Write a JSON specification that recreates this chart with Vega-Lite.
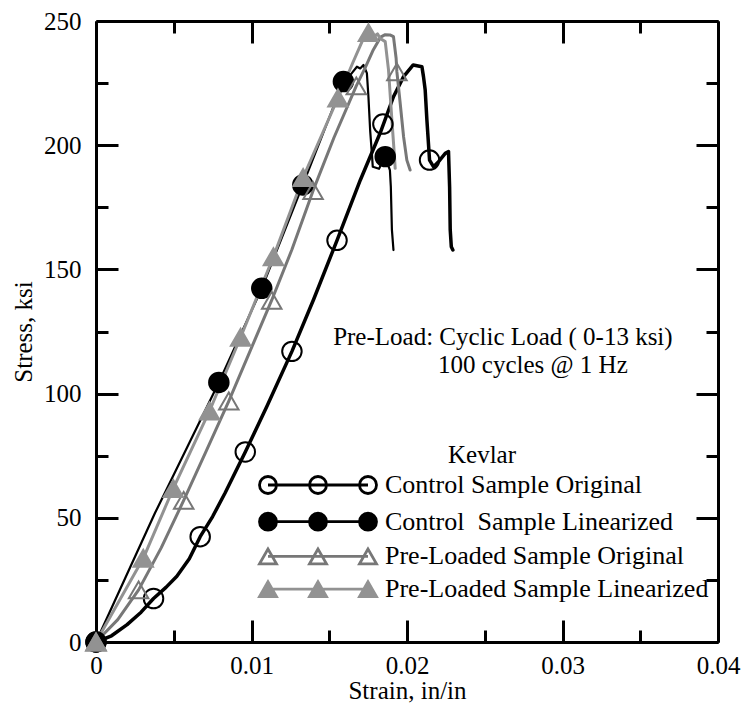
{
  "$schema": "https://vega.github.io/schema/vega-lite/v6.json",
  "width": 622,
  "height": 621,
  "autosize": {"type": "none"},
  "padding": {"left": 96, "top": 21, "right": 27, "bottom": 66},
  "background": "white",
  "config": {
    "font": "Liberation Serif",
    "view": {"stroke": null},
    "axis": {
      "grid": false,
      "domainColor": "black",
      "domainWidth": 3,
      "tickColor": "black",
      "tickWidth": 3,
      "labelFont": "Liberation Serif",
      "labelFontSize": 25,
      "labelColor": "black",
      "titleFont": "Liberation Serif",
      "titleFontSize": 25,
      "titleFontWeight": "normal",
      "titleColor": "black"
    }
  },
  "datasets": {
    "curves": [
      {"series": "CO", "strain": 0, "stress": 0},
      {"series": "CO", "strain": 0.001, "stress": 2.5},
      {"series": "CO", "strain": 0.002, "stress": 7},
      {"series": "CO", "strain": 0.0029, "stress": 12},
      {"series": "CO", "strain": 0.0037, "stress": 17.5},
      {"series": "CO", "strain": 0.0045, "stress": 22},
      {"series": "CO", "strain": 0.0052, "stress": 26.5},
      {"series": "CO", "strain": 0.006, "stress": 33.5},
      {"series": "CO", "strain": 0.0067, "stress": 42.4},
      {"series": "CO", "strain": 0.0075, "stress": 50.5},
      {"series": "CO", "strain": 0.0083, "stress": 60},
      {"series": "CO", "strain": 0.0096, "stress": 76.5},
      {"series": "CO", "strain": 0.011, "stress": 95},
      {"series": "CO", "strain": 0.0126, "stress": 117},
      {"series": "CO", "strain": 0.014, "stress": 138},
      {"series": "CO", "strain": 0.0155, "stress": 161.7},
      {"series": "CO", "strain": 0.017, "stress": 186},
      {"series": "CO", "strain": 0.01828, "stress": 205},
      {"series": "CO", "strain": 0.01913, "stress": 219.5},
      {"series": "CO", "strain": 0.01978, "stress": 227.6},
      {"series": "CO", "strain": 0.0204, "stress": 232.3},
      {"series": "CO", "strain": 0.02096, "stress": 231.6},
      {"series": "CO", "strain": 0.02106, "stress": 227.6},
      {"series": "CO", "strain": 0.02117, "stress": 222.2},
      {"series": "CO", "strain": 0.02128, "stress": 210.1},
      {"series": "CO", "strain": 0.02145, "stress": 194},
      {"series": "CO", "strain": 0.02171, "stress": 191.3},
      {"series": "CO", "strain": 0.02203, "stress": 193.4},
      {"series": "CO", "strain": 0.02246, "stress": 196.7},
      {"series": "CO", "strain": 0.02267, "stress": 197.4},
      {"series": "CO", "strain": 0.02274, "stress": 183.3},
      {"series": "CO", "strain": 0.02278, "stress": 165.9},
      {"series": "CO", "strain": 0.02285, "stress": 159.1},
      {"series": "CO", "strain": 0.02295, "stress": 157.8},

      {"series": "CL", "strain": 0, "stress": 0},
      {"series": "CL", "strain": 0.0038, "stress": 52},
      {"series": "CL", "strain": 0.0079, "stress": 104.5},
      {"series": "CL", "strain": 0.01066, "stress": 142.4},
      {"series": "CL", "strain": 0.0133, "stress": 184},
      {"series": "CL", "strain": 0.01591, "stress": 225.6},
      {"series": "CL", "strain": 0.01645, "stress": 229},
      {"series": "CL", "strain": 0.01678, "stress": 231.6},
      {"series": "CL", "strain": 0.01699, "stress": 230.9},
      {"series": "CL", "strain": 0.0172, "stress": 232.3},
      {"series": "CL", "strain": 0.01742, "stress": 229},
      {"series": "CL", "strain": 0.01752, "stress": 219.5},
      {"series": "CL", "strain": 0.01763, "stress": 206},
      {"series": "CL", "strain": 0.01774, "stress": 196.7},
      {"series": "CL", "strain": 0.0178, "stress": 191.3},
      {"series": "CL", "strain": 0.0182, "stress": 190.5},
      {"series": "CL", "strain": 0.0186, "stress": 195.4},
      {"series": "CL", "strain": 0.0189, "stress": 190},
      {"series": "CL", "strain": 0.01896, "stress": 183.3},
      {"series": "CL", "strain": 0.01903, "stress": 165.9},
      {"series": "CL", "strain": 0.01913, "stress": 157.8},

      {"series": "PO", "strain": 0, "stress": 0},
      {"series": "PO", "strain": 0.0014, "stress": 9},
      {"series": "PO", "strain": 0.00274, "stress": 21},
      {"series": "PO", "strain": 0.0042, "stress": 38},
      {"series": "PO", "strain": 0.00564, "stress": 57},
      {"series": "PO", "strain": 0.0071, "stress": 77},
      {"series": "PO", "strain": 0.00854, "stress": 97},
      {"series": "PO", "strain": 0.0099, "stress": 117},
      {"series": "PO", "strain": 0.0113, "stress": 137.6},
      {"series": "PO", "strain": 0.0126, "stress": 158},
      {"series": "PO", "strain": 0.01396, "stress": 181.7},
      {"series": "PO", "strain": 0.0153, "stress": 203},
      {"series": "PO", "strain": 0.01674, "stress": 223.9},
      {"series": "PO", "strain": 0.0173, "stress": 231},
      {"series": "PO", "strain": 0.0178, "stress": 238},
      {"series": "PO", "strain": 0.0183, "stress": 243.5},
      {"series": "PO", "strain": 0.0186, "stress": 244.5},
      {"series": "PO", "strain": 0.0189, "stress": 244.4},
      {"series": "PO", "strain": 0.01913, "stress": 243.7},
      {"series": "PO", "strain": 0.0193, "stress": 235},
      {"series": "PO", "strain": 0.01935, "stress": 229.5},
      {"series": "PO", "strain": 0.01956, "stress": 217},
      {"series": "PO", "strain": 0.01978, "stress": 203.4},
      {"series": "PO", "strain": 0.01999, "stress": 194},
      {"series": "PO", "strain": 0.0202, "stress": 190},

      {"series": "PL", "strain": 0, "stress": 0},
      {"series": "PL", "strain": 0.00304, "stress": 33.7},
      {"series": "PL", "strain": 0.00497, "stress": 61.8},
      {"series": "PL", "strain": 0.0073, "stress": 93},
      {"series": "PL", "strain": 0.0093, "stress": 122.7},
      {"series": "PL", "strain": 0.01141, "stress": 155.1},
      {"series": "PL", "strain": 0.01332, "stress": 187},
      {"series": "PL", "strain": 0.01556, "stress": 219},
      {"series": "PL", "strain": 0.0165, "stress": 233},
      {"series": "PL", "strain": 0.0172, "stress": 243},
      {"series": "PL", "strain": 0.01752, "stress": 245.3},
      {"series": "PL", "strain": 0.0178, "stress": 243.5},
      {"series": "PL", "strain": 0.0181, "stress": 244.8},
      {"series": "PL", "strain": 0.01828, "stress": 243},
      {"series": "PL", "strain": 0.0186, "stress": 241.7},
      {"series": "PL", "strain": 0.01881, "stress": 230.3},
      {"series": "PL", "strain": 0.01903, "stress": 210},
      {"series": "PL", "strain": 0.01918, "stress": 196.7},
      {"series": "PL", "strain": 0.01924, "stress": 190.7}
    ],
    "markers": [
      {"series": "CO", "strain": 0, "stress": 0},
      {"series": "CO", "strain": 0.0037, "stress": 17.5},
      {"series": "CO", "strain": 0.0067, "stress": 42.4},
      {"series": "CO", "strain": 0.0096, "stress": 76.5},
      {"series": "CO", "strain": 0.0126, "stress": 117},
      {"series": "CO", "strain": 0.0155, "stress": 161.7},
      {"series": "CO", "strain": 0.01845, "stress": 208.5},
      {"series": "CO", "strain": 0.02145, "stress": 194},
      {"series": "CL", "strain": 0, "stress": 0},
      {"series": "CL", "strain": 0.0079, "stress": 104.5},
      {"series": "CL", "strain": 0.01066, "stress": 142.4},
      {"series": "CL", "strain": 0.0133, "stress": 184},
      {"series": "CL", "strain": 0.01591, "stress": 225.6},
      {"series": "CL", "strain": 0.0186, "stress": 195.4},
      {"series": "PO", "strain": 0, "stress": 0},
      {"series": "PO", "strain": 0.00274, "stress": 21},
      {"series": "PO", "strain": 0.00564, "stress": 57},
      {"series": "PO", "strain": 0.00854, "stress": 97},
      {"series": "PO", "strain": 0.0113, "stress": 137.6},
      {"series": "PO", "strain": 0.01396, "stress": 181.7},
      {"series": "PO", "strain": 0.01674, "stress": 223.9},
      {"series": "PO", "strain": 0.01935, "stress": 229.5},
      {"series": "PL", "strain": 0, "stress": 0},
      {"series": "PL", "strain": 0.00304, "stress": 33.7},
      {"series": "PL", "strain": 0.00497, "stress": 61.8},
      {"series": "PL", "strain": 0.0073, "stress": 93},
      {"series": "PL", "strain": 0.0093, "stress": 122.7},
      {"series": "PL", "strain": 0.01141, "stress": 155.1},
      {"series": "PL", "strain": 0.01332, "stress": 187},
      {"series": "PL", "strain": 0.01556, "stress": 219},
      {"series": "PL", "strain": 0.01752, "stress": 245.3}
    ],
    "notes": [
      {"text": "Pre-Load: Cyclic Load ( 0-13 ksi)", "strain": 0.01525, "stress": 122.8},
      {"text": "100 cycles @ 1 Hz", "strain": 0.022, "stress": 111.5}
    ]
  },
  "resolve": {
    "axis": {"x": "independent", "y": "independent"},
    "scale": {"shape": "independent", "fill": "independent", "stroke": "independent"}
  },
  "layer": [
    {
      "data": {"name": "curves"},
      "transform": [{"filter": "datum.series === 'CO'"}],
      "mark": {"type": "line", "color": "black", "strokeWidth": 3.5, "strokeJoin": "round", "strokeCap": "round"},
      "encoding": {
        "x": {
          "field": "strain", "type": "quantitative",
          "scale": {"domain": [0, 0.04], "nice": false, "zero": false},
          "axis": {
            "orient": "bottom",
            "title": "Strain, in/in",
            "values": [0, 0.005, 0.01, 0.015, 0.02, 0.025, 0.03, 0.035, 0.04],
            "labelExpr": "round(datum.value*200) % 2 === 0 ? format(datum.value, '~g') : ''",
            "tickSize": {"condition": {"test": "round(datum.value*200) % 2 === 0", "value": -22}, "value": -12},
            "labelPadding": 33,
            "titlePadding": -10,
            "labelFlush": false,
            "labelOverlap": false
          }
        },
        "y": {
          "field": "stress", "type": "quantitative",
          "scale": {"domain": [0, 250], "nice": false, "zero": false},
          "axis": {
            "orient": "left",
            "title": "Stress, ksi",
            "values": [0, 25, 50, 75, 100, 125, 150, 175, 200, 225, 250],
            "labelExpr": "round(datum.value) % 50 === 0 ? format(datum.value, 'd') : ''",
            "tickSize": {"condition": {"test": "round(datum.value) % 50 === 0", "value": -22}, "value": -12},
            "labelPadding": 37,
            "titlePadding": 7,
            "labelFlush": false,
            "labelOverlap": false
          }
        }
      }
    },
    {
      "data": {"name": "curves"},
      "transform": [{"filter": "datum.series === 'CL'"}],
      "mark": {"type": "line", "color": "black", "strokeWidth": 2.2, "strokeJoin": "round", "strokeCap": "round"},
      "encoding": {
        "x": {"field": "strain", "type": "quantitative", "axis": null},
        "y": {"field": "stress", "type": "quantitative", "axis": null}
      }
    },
    {
      "data": {"name": "curves"},
      "transform": [{"filter": "datum.series === 'PO'"}],
      "mark": {"type": "line", "color": "#777777", "strokeWidth": 3, "strokeJoin": "round", "strokeCap": "round"},
      "encoding": {
        "x": {"field": "strain", "type": "quantitative", "axis": null},
        "y": {"field": "stress", "type": "quantitative", "axis": null}
      }
    },
    {
      "data": {"name": "curves"},
      "transform": [{"filter": "datum.series === 'PL'"}],
      "mark": {"type": "line", "color": "#929292", "strokeWidth": 3, "strokeJoin": "round", "strokeCap": "round"},
      "encoding": {
        "x": {"field": "strain", "type": "quantitative", "axis": null},
        "y": {"field": "stress", "type": "quantitative", "axis": null}
      }
    },
    {
      "data": {"name": "markers"},
      "mark": {"type": "point", "size": 380, "strokeWidth": 2, "opacity": 1},
      "encoding": {
        "x": {
          "field": "strain", "type": "quantitative",
          "axis": {
            "orient": "top",
            "title": null,
            "labels": false,
            "values": [0, 0.005, 0.01, 0.015, 0.02, 0.025, 0.03, 0.035, 0.04],
            "tickSize": {"condition": {"test": "round(datum.value*200) % 2 === 0", "value": -22}, "value": -12}
          }
        },
        "y": {
          "field": "stress", "type": "quantitative",
          "axis": {
            "orient": "right",
            "title": null,
            "labels": false,
            "values": [0, 25, 50, 75, 100, 125, 150, 175, 200, 225, 250],
            "tickSize": {"condition": {"test": "round(datum.value) % 50 === 0", "value": -22}, "value": -12}
          }
        },
        "stroke": {
          "field": "series", "type": "nominal",
          "scale": {"domain": ["CO", "CL", "PO", "PL"], "range": ["black", "black", "#777777", "#929292"]},
          "legend": null
        },
        "fill": {
          "field": "series", "type": "nominal",
          "scale": {"domain": ["CO", "CL", "PO", "PL"], "range": ["transparent", "black", "transparent", "#929292"]},
          "legend": null
        },
        "shape": {
          "field": "series", "type": "nominal",
          "scale": {"domain": ["CO", "CL", "PO", "PL"], "range": ["circle", "circle", "triangle-up", "triangle-up"]},
          "legend": null
        }
      }
    },
    {
      "data": {"name": "markers"},
      "transform": [{"filter": "false"}],
      "mark": {"type": "point", "strokeWidth": 2.8, "opacity": 1},
      "encoding": {
        "x": {"field": "strain", "type": "quantitative", "axis": null},
        "y": {"field": "stress", "type": "quantitative", "axis": null},
        "stroke": {
          "field": "series", "type": "nominal",
          "scale": {"domain": ["Control Sample Original", "Control\u00a0 Sample Linearized", "Pre-Loaded Sample Original", "Pre-Loaded Sample Linearized"], "range": ["black", "black", "#777777", "#929292"]}
        },
        "fill": {
          "field": "series", "type": "nominal",
          "scale": {"domain": ["Control Sample Original", "Control\u00a0 Sample Linearized", "Pre-Loaded Sample Original", "Pre-Loaded Sample Linearized"], "range": ["transparent", "black", "transparent", "#929292"]}
        },
        "shape": {
          "field": "series", "type": "nominal",
          "scale": {
            "domain": ["Control Sample Original", "Control\u00a0 Sample Linearized", "Pre-Loaded Sample Original", "Pre-Loaded Sample Linearized"],
            "range": [
              "M-5,0L5,0M-4.15,0A0.85,0.85,0,1,1,-5.85,0A0.85,0.85,0,1,1,-4.15,0ZM0.85,0A0.85,0.85,0,1,1,-0.85,0A0.85,0.85,0,1,1,0.85,0ZM5.85,0A0.85,0.85,0,1,1,4.15,0A0.85,0.85,0,1,1,5.85,0Z",
              "M-5,0L5,0M-4.15,0A0.85,0.85,0,1,1,-5.85,0A0.85,0.85,0,1,1,-4.15,0ZM0.85,0A0.85,0.85,0,1,1,-0.85,0A0.85,0.85,0,1,1,0.85,0ZM5.85,0A0.85,0.85,0,1,1,4.15,0A0.85,0.85,0,1,1,5.85,0Z",
              "M-5,0L5,0M-5,-0.74L-5.85,0.74L-4.15,0.74ZM0,-0.74L-0.85,0.74L0.85,0.74ZM5,-0.74L4.15,0.74L5.85,0.74Z",
              "M-5,0L5,0M-5,-0.74L-5.85,0.74L-4.15,0.74ZM0,-0.74L-0.85,0.74L0.85,0.74ZM5,-0.74L4.15,0.74L5.85,0.74Z"
            ]
          },
          "legend": {
            "orient": "none",
            "legendX": 159,
            "legendY": 422,
            "title": "Kevlar",
            "titleAnchor": "middle",
            "titleFont": "Liberation Serif",
            "titleFontSize": 25,
            "titleFontWeight": "normal",
            "titleColor": "black",
            "titlePadding": 4,
            "labelFont": "Liberation Serif",
            "labelFontSize": 26,
            "labelColor": "black",
            "labelLimit": 500,
            "symbolSize": 400,
            "symbolOffset": 50,
            "labelOffset": 54,
            "rowPadding": 6.7,
            "padding": 0,
            "symbolStrokeWidth": 2.8,
            "symbolOpacity": 1
          }
        }
      }
    },
    {
      "data": {"name": "notes"},
      "mark": {"type": "text", "align": "left", "baseline": "middle", "font": "Liberation Serif", "fontSize": 25, "color": "black"},
      "encoding": {
        "x": {"field": "strain", "type": "quantitative", "axis": null},
        "y": {"field": "stress", "type": "quantitative", "axis": null},
        "text": {"field": "text"}
      }
    }
  ]
}
